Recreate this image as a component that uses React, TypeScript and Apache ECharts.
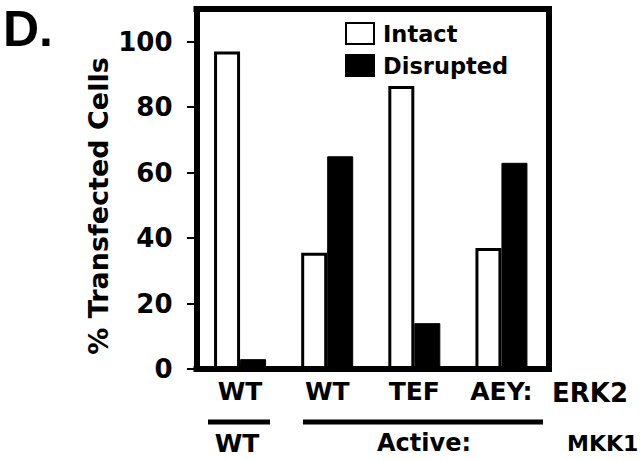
import React, { useEffect, useRef } from "react";
import * as echarts from "echarts";

const categories = ["WT", "WT", "TEF", "AEY:"];
const intact = [97, 35.5, 86.5, 37];
const disrupted = [3, 65, 14, 63];
const yTicks = [0, 20, 40, 60, 80, 100];
const seriesNames = ["Intact", "Disrupted"];

const FONT = "DejaVu Sans";

export default function App() {
  const ref = useRef<HTMLDivElement>(null);
  useEffect(() => {
    if (!ref.current) return;
    const chart = echarts.init(ref.current, null, { renderer: "svg" });
    const frameLine = { color: "#000", width: 6, cap: "square" };
    chart.setOption({
      animation: false,
      backgroundColor: "#fff",
      grid: { left: 196.5, right: 95, top: 9, bottom: 91, containLabel: false },
      legend: {
        orient: "vertical",
        left: 345,
        top: 22,
        padding: 0,
        itemWidth: 28,
        itemHeight: 21,
        itemGap: 9,
        icon: "rect",
        data: seriesNames,
        textStyle: {
          fontFamily: FONT,
          fontWeight: "bold",
          fontSize: 22.5,
          color: "#000",
          padding: [0, 0, 0, 4],
        },
      },
      xAxis: [
        {
          type: "category",
          data: categories,
          position: "bottom",
          axisLine: { show: true, onZero: false, lineStyle: frameLine },
          axisTick: { show: false },
          axisLabel: {
            margin: 10,
            fontFamily: FONT,
            fontWeight: "bold",
            fontSize: 25,
            color: "#000",
          },
        },
        {
          type: "category",
          data: categories,
          position: "top",
          axisLine: { show: true, onZero: false, lineStyle: frameLine },
          axisTick: { show: false },
          axisLabel: { show: false },
        },
      ],
      yAxis: [
        {
          type: "value",
          min: 0,
          max: 110,
          interval: 20,
          position: "left",
          splitLine: { show: false },
          axisLine: { show: true, onZero: false, lineStyle: frameLine },
          axisTick: {
            show: true,
            inside: false,
            length: 9.5,
            customValues: yTicks,
            lineStyle: { color: "#000", width: 2 },
          },
          axisLabel: {
            margin: 24,
            customValues: yTicks,
            fontFamily: FONT,
            fontWeight: "bold",
            fontSize: 26,
            color: "#000",
          },
        },
        {
          type: "value",
          min: 0,
          max: 110,
          position: "right",
          offset: 3.5,
          splitLine: { show: false },
          axisLine: { show: true, onZero: false, lineStyle: frameLine },
          axisTick: { show: false },
          axisLabel: { show: false },
        },
      ],
      series: [
        {
          name: seriesNames[0],
          type: "bar",
          data: intact,
          barWidth: 26,
          barGap: "0%",
          itemStyle: { color: "#fff", borderColor: "#000", borderWidth: 3 },
        },
        {
          name: seriesNames[1],
          type: "bar",
          data: disrupted,
          barWidth: 26,
          barGap: "0%",
          itemStyle: { color: "#000", borderColor: "#000", borderWidth: 1 },
        },
      ],
      graphic: [
        {
          type: "text",
          left: 3,
          top: 4,
          style: {
            text: "D.",
            fontFamily: "Liberation Sans",
            fontWeight: "bold",
            fontSize: 50,
            fill: "#000",
          },
        },
        {
          type: "text",
          x: 98,
          y: 206,
          rotation: Math.PI / 2,
          style: {
            text: "% Transfected Cells",
            fontFamily: FONT,
            fontWeight: "bold",
            fontSize: 27,
            fill: "#000",
            align: "center",
            verticalAlign: "middle",
          },
        },
        {
          type: "rect",
          shape: { x: 208, y: 419.5, width: 62, height: 5 },
          style: { fill: "#000" },
        },
        {
          type: "rect",
          shape: { x: 303, y: 419.5, width: 240, height: 5 },
          style: { fill: "#000" },
        },
        {
          type: "text",
          x: 237,
          y: 443,
          style: {
            text: "WT",
            fontFamily: FONT,
            fontWeight: "bold",
            fontSize: 25,
            fill: "#000",
            align: "center",
            verticalAlign: "middle",
          },
        },
        {
          type: "text",
          x: 424,
          y: 443,
          style: {
            text: "Active:",
            fontFamily: FONT,
            fontWeight: "bold",
            fontSize: 24,
            fill: "#000",
            align: "center",
            verticalAlign: "middle",
          },
        },
        {
          type: "text",
          x: 552,
          y: 393,
          style: {
            text: "ERK2",
            fontFamily: FONT,
            fontWeight: "bold",
            fontSize: 26,
            fill: "#000",
            align: "left",
            verticalAlign: "middle",
          },
        },
        {
          type: "text",
          x: 567,
          y: 443,
          style: {
            text: "MKK1",
            fontFamily: FONT,
            fontWeight: "bold",
            fontSize: 22,
            fill: "#000",
            align: "left",
            verticalAlign: "middle",
          },
        },
      ],
    });
    return () => chart.dispose();
  }, []);
  return <div ref={ref} style={{ width: 640, height: 460, position: "absolute", left: 0, top: 0 }} />;
}
